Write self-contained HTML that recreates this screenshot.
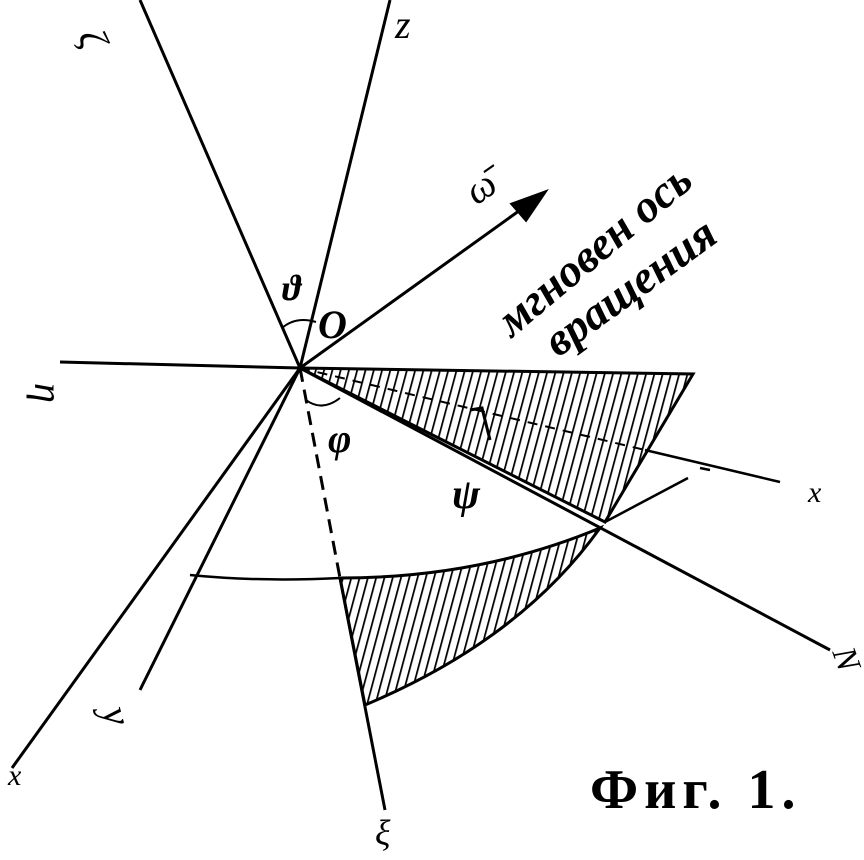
<!DOCTYPE html>
<html><head><meta charset="utf-8"><style>
html,body{margin:0;padding:0;background:#fff;}
svg{display:block;}
text{font-family:"Liberation Serif",serif;fill:#000;}
</style></head><body>
<svg width="864" height="860" viewBox="0 0 864 860" xmlns="http://www.w3.org/2000/svg">
<defs>
<pattern id="h" width="8" height="8" patternUnits="userSpaceOnUse" patternTransform="rotate(15)">
<rect width="8" height="8" fill="#fff"/><line x1="0" y1="0" x2="0" y2="8" stroke="#000" stroke-width="3.5"/>
</pattern>
</defs>
<g stroke="#000" stroke-width="3" fill="none">
<path d="M300,368 L693,374 L605,522 Z" fill="url(#h)"/>
<path d="M340,578 L365,705 Q520,640 600,528 Q480,578 340,578 Z" fill="url(#h)"/>
<line x1="300" y1="368" x2="140" y2="0"/>
<line x1="300" y1="368" x2="390" y2="0"/>
<line x1="300" y1="368" x2="530" y2="203"/>
<path d="M545,192 L512,204 L526,220 Z" fill="#000"/>
<line x1="60" y1="362" x2="300" y2="368"/>
<line x1="300" y1="368" x2="12" y2="768"/>
<line x1="300" y1="368" x2="140" y2="690"/>
<line x1="300" y1="368" x2="340" y2="578" stroke-dasharray="14,8"/>
<line x1="340" y1="578" x2="385" y2="810"/>
<line x1="300" y1="368" x2="830" y2="650"/>
<line x1="300" y1="368" x2="645" y2="450" stroke-width="2" stroke-dasharray="10,8"/>
<line x1="645" y1="450" x2="780" y2="482" stroke-width="2.5"/>
<line x1="605" y1="522" x2="688" y2="478" stroke-width="2.5"/>
<line x1="700" y1="468" x2="710" y2="470" stroke-width="2.5"/>
<path d="M190,575 Q260,582 340,578" stroke-width="2.5"/>
<path d="M282,328 Q296,316 316,322" stroke-width="2"/>
<path d="M306,400 Q322,412 340,398" stroke-width="2"/>
<path d="M470,410 L482,408 L490,440" stroke-width="3"/>
</g>
<g font-style="italic" font-size="40">
<text x="80" y="58" transform="rotate(70 95 45)">ζ</text>
<text x="395" y="38">z</text>
<text x="465" y="200" transform="rotate(-35 480 185)">ω̄</text>
<text x="318" y="338" font-weight="bold">O</text>
<text x="282" y="300" font-size="36" font-weight="bold">ϑ</text>
<text x="328" y="452" font-size="40" font-weight="bold">φ</text>
<text x="452" y="508" font-size="42" font-weight="bold">ψ</text>
<text x="38" y="410" transform="rotate(90 50 395)">η</text>
<text x="8" y="785" font-size="30">x</text>
<text x="110" y="740" transform="rotate(75 125 720)">y</text>
<text x="375" y="845" font-size="36">ξ</text>
<text x="808" y="502" font-size="30">x</text>
<text x="835" y="668" font-size="34" transform="rotate(70 845 658)">N</text>
</g>
<g font-style="italic" font-size="46" font-weight="bold">
<text transform="translate(512,338) rotate(-40)" font-family="Liberation Sans,sans-serif">мгновен ось</text>
<text transform="translate(558,358) rotate(-36)" font-family="Liberation Sans,sans-serif">вращения</text>
</g>
<text x="590" y="808" font-size="56" font-weight="bold" letter-spacing="6" font-family="Liberation Serif,serif">Фиг. 1.</text>
</svg>
</body></html>
